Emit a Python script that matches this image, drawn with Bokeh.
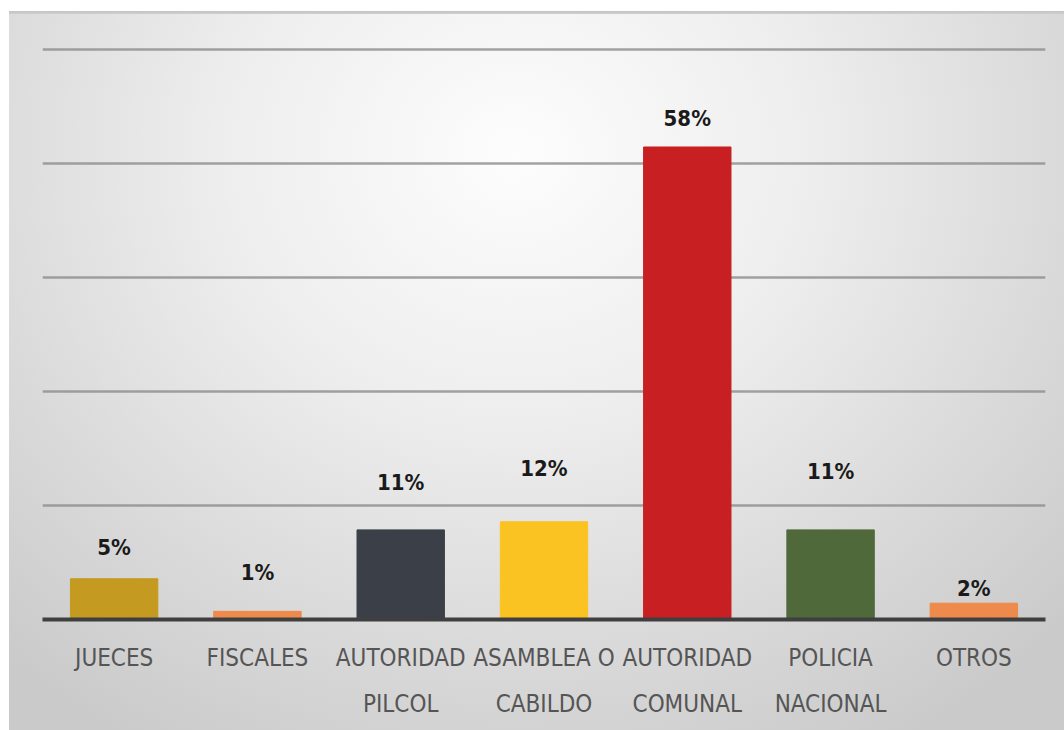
from bokeh.plotting import figure
from bokeh.models import (ColumnDataSource, FixedTicker, FactorRange, CategoricalAxis,
                          CustomJSTickFormatter)
from bokeh.core.properties import value
from bokeh.embed import file_html
from bokeh.resources import INLINE

categories = ["JUECES", "FISCALES", "AUTORIDAD PILCOL", "ASAMBLEA O CABILDO",
              "AUTORIDAD COMUNAL", "POLICIA NACIONAL", "OTROS"]
label_line1 = ["JUECES", "FISCALES", "AUTORIDAD", "ASAMBLEA O",
               "AUTORIDAD", "POLICIA", "OTROS"]
label_line2 = ["", "", "PILCOL", "CABILDO", "COMUNAL", "NACIONAL", ""]
percent = [5, 1, 11, 12, 58, 11, 2]
colors = ["#c49b20", "#ee8a4c", "#3b4048", "#fbc321", "#c82022", "#50693b", "#ee8a4c"]
grid_ticks = [14, 28, 42, 56, 70]
# pixel lift of each value label above its bar (styling only)
label_lift = [-31, -39, -47, -53, -28, -58, -15]

NARROW = "'Liberation Sans Narrow', 'DejaVu Sans Condensed', sans-serif"

src = ColumnDataSource(dict(
    cat=categories,
    val=percent,
    color=colors,
    label=[f"{v}%" for v in percent],
    lift=label_lift,
))

p = figure(
    x_range=FactorRange(*categories, range_padding=0),
    y_range=(0, 75),
    width=1064, height=730,
    output_backend="svg", toolbar_location=None,
    min_border_left=42, min_border_right=19, min_border_top=8, min_border_bottom=111,
)
p.styles = {
    "background": (
        "linear-gradient(#c3c3c3, #cfcfcf) 9px 11px / calc(100% - 9px) 3px no-repeat, "
        "radial-gradient(ellipse 72% 95% at 48% 20%, #fdfdfd 0%, #eeeeee 38%, #dadada 72%, #cacaca 100%) "
        "9px 11px / calc(100% - 9px) calc(100% - 11px) no-repeat, #ffffff"
    ),
}
p.background_fill_alpha = 0
p.border_fill_alpha = 0
p.outline_line_color = None

p.vbar(x="cat", top="val", width=0.61, color="color", source=src)
p.text(x="cat", y="val", text="label", source=src,
       text_align="center", text_baseline="alphabetic", y_offset="lift",
       text_font=value(NARROW), text_font_style="bold", text_font_size="22px",
       text_color="#1a1a1a")

p.yaxis.visible = False
p.ygrid.ticker = FixedTicker(ticks=grid_ticks)
p.ygrid.grid_line_color = "#8c8c8c"
p.ygrid.grid_line_alpha = 0.8
p.ygrid.grid_line_width = 2.5
p.xgrid.grid_line_color = None

def style_axis(ax, standoff, lines):
    ax.major_tick_line_color = None
    ax.minor_tick_line_color = None
    ax.major_tick_out = 0
    ax.major_tick_in = 0
    ax.major_label_standoff = standoff
    ax.major_label_text_font = NARROW
    ax.major_label_text_font_size = "24px"
    ax.major_label_text_color = "#555555"
    ax.formatter = CustomJSTickFormatter(
        args=dict(m=dict(zip(categories, lines))),
        code="return (tick in m) ? m[tick] : tick;",
    )

ax = p.xaxis[0]
ax.axis_line_color = "#3f3f3f"
ax.axis_line_width = 4
style_axis(ax, 24, label_line1)

ax2 = CategoricalAxis()
ax2.axis_line_color = None
style_axis(ax2, 15, label_line2)
p.add_layout(ax2, "below")

open("out.html", "w").write(file_html(p, INLINE))
